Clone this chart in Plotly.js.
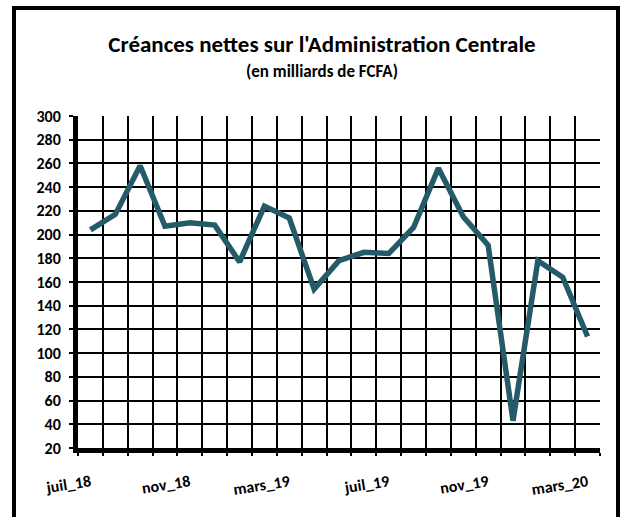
<!DOCTYPE html>
<html>
<head>
<meta charset="utf-8">
<script src="https://cdn.plot.ly/plotly-3.0.1.min.js"></script>
<style>html,body{margin:0;padding:0;background:#fff;}#chart{width:621px;height:517px;}</style>
</head>
<body>
<div id="chart"></div>
<script>
const months = ["juil_18","août_18","sept_18","oct_18","nov_18","déc_18","janv_19","févr_19","mars_19","avr_19","mai_19","juin_19","juil_19","août_19","sept_19","oct_19","nov_19","déc_19","janv_20","févr_20","mars_20"];
const values = [204, 217, 258, 207, 210, 208, 177, 224, 214, 154, 178, 185, 184, 206, 256, 215, 191, 43, 178, 164, 114];
const shownLabels = ["juil_18","nov_18","mars_19","juil_19","nov_19","mars_20"];
const tickText = months.map(m => shownLabels.includes(m) ? m : "");

const FONT = "Carlito, Lato, 'Open Sans', sans-serif";

const trace = {
  x: months, y: values, type: "scatter", mode: "lines",
  line: {color: "#255b68", width: 5.5, shape: "linear"},
  hoverinfo: "x+y"
};

const layout = {
  width: 621, height: 517,
  margin: {l: 78, r: 21, t: 116, b: 69},
  paper_bgcolor: "#fff", plot_bgcolor: "#fff",
  showlegend: false,
  font: {family: FONT, color: "#000", size: 14, weight: "bold"},
  title: {text: "<b>Créances nettes sur l'Administration Centrale</b>", x: 322/621, xanchor: "center", y: 1 - 44/517, yanchor: "middle",
          font: {family: FONT, size: 23, color: "#000"}},
  annotations: [{text: "<b>(en milliards de FCFA)</b>", xref: "paper", yref: "paper",
    x: (322 - 78) / 522, y: (448 - 71) / 332, xanchor: "center", yanchor: "middle", showarrow: false,
    font: {family: FONT, size: 17, color: "#000"}}],
  xaxis: {
    type: "category", range: [-0.5, 20.5], tickmode: "array", tickvals: months, ticktext: tickText,
    tickson: "boundaries", showgrid: true, gridcolor: "#000", gridwidth: 2,
    showline: true, linecolor: "#000", linewidth: 5,
    ticks: "outside", ticklen: 3, tickwidth: 2, tickcolor: "#000",
    tickangle: -9, ticklabelstandoff: 14,
    tickfont: {family: FONT, size: 16, color: "#000", weight: "bold"},
    zeroline: false, fixedrange: true
  },
  yaxis: {
    range: [20, 300], tickmode: "linear", tick0: 20, dtick: 20,
    showgrid: true, gridcolor: "#000", gridwidth: 2,
    showline: true, linecolor: "#000", linewidth: 5,
    ticks: "outside", ticklen: 4, tickwidth: 2, tickcolor: "#000",
    ticklabelstandoff: 5,
    tickfont: {family: FONT, size: 16, color: "#000", weight: "bold"},
    zeroline: false, fixedrange: true
  },
  shapes: [{type: "rect", xref: "paper", yref: "paper",
    x0: (14 - 78) / 522, x1: (618 - 78) / 522, y0: (448 - 540) / 332, y1: (448 - 8) / 332,
    line: {color: "#000", width: 4}, fillcolor: "rgba(0,0,0,0)", layer: "above"}]
};

Plotly.newPlot("chart", [trace], layout, {displayModeBar: false, staticPlot: true});
</script>
</body>
</html>
